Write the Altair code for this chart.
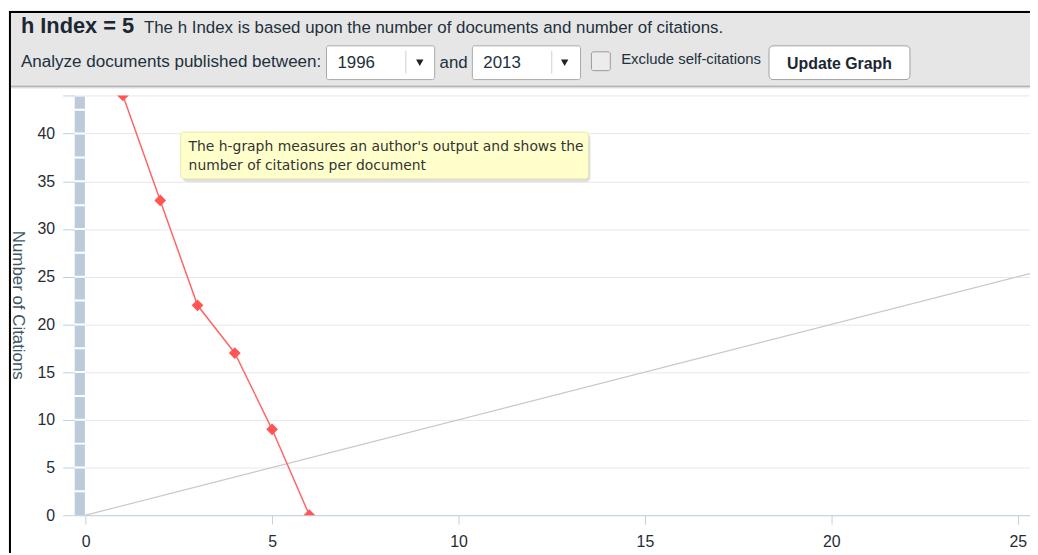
import altair as alt
import pandas as pd

# ---------------- data ----------------
docs = [1, 2, 3, 4, 5, 6]
citations = [44, 33, 22, 17, 9, 0]
diag_x = [0, 26]
diag_y = [0, 26]
bar_lo = [0, 2.5, 5, 7.5, 10, 12.5, 15, 17.5, 20, 22.5, 25, 27.5, 30, 32.5, 35, 37.5, 40, 42.5]
bar_hi = [2.5, 5, 7.5, 10, 12.5, 15, 17.5, 20, 22.5, 25, 27.5, 30, 32.5, 35, 37.5, 40, 42.5, 44]
x_ticks = [0, 5, 10, 15, 20, 25]
y_ticks = [0, 5, 10, 15, 20, 25, 30, 35, 40, 44]

h_index_text = "h Index = 5"
desc_text = "The h Index is based upon the number of documents and number of citations."
analyze_text = "Analyze documents published between:"
year_from = "1996"
year_to = "2013"
and_text = "and"
exclude_text = "Exclude self-citations"
button_text = "Update Graph"
tip_line1 = "The h-graph measures an author's output and shows the"
tip_line2 = "number of citations per document"
y_title = "Number of Citations"

# ---------------- layout ----------------
W, H = 963, 423
FONT = "Liberation Sans"
TXT = "#22303c"
AXC = "#c0d0e0"
LBL = "#252d36"

xs = alt.Scale(domain=[-0.3, 25.33], nice=False, zero=False)
ys = alt.Scale(domain=[0, 44], nice=False, zero=False)

x_axis = alt.Axis(
    values=x_ticks, grid=False, domain=True, domainColor=AXC, domainWidth=1,
    tickColor=AXC, tickSize=9, labelPadding=10, labelFont=FONT, labelFontSize=16,
    labelColor=LBL, title=None,
)
y_axis = alt.Axis(
    values=y_ticks, grid=True, gridColor="#e8e8e8", domain=False, tickColor=AXC,
    tickSize=12, labelPadding=8, labelFont=FONT, labelFontSize=16, labelColor=LBL,
    labelExpr="datum.value == 44 ? '' : datum.label",
    title=y_title, titleAngle=90, titleX=-57, titleY=211, titleFont=FONT,
    titleFontSize=17, titleFontWeight="normal", titleColor="#3f5868",
    titleAlign="center", titleBaseline="middle",
)

dummy = pd.DataFrame({"k": [0]})


def box(x1, y1, x2, y2, **kw):
    return alt.Chart(dummy).mark_rect(**kw).encode(
        x=alt.value(x1), x2=alt.value(x2), y=alt.value(y1), y2=alt.value(y2)
    )


def label(x, y, s, align="left", **kw):
    return alt.Chart(dummy).mark_text(align=align, baseline="alphabetic", **kw).encode(
        x=alt.value(x), y=alt.value(y), text=alt.value(s)
    )


def arrow(x, y):
    return alt.Chart(dummy).mark_point(
        shape="triangle-down", filled=True, size=55, color="#222222", opacity=1
    ).encode(x=alt.value(x), y=alt.value(y))


def vline(x, y1, y2, color):
    return alt.Chart(dummy).mark_rule(color=color, strokeWidth=1).encode(
        x=alt.value(x), y=alt.value(y1), y2=alt.value(y2)
    )


# ---------------- plot layers ----------------
bar_df = pd.DataFrame({"lo": bar_lo, "hi": bar_hi})
bar_df["l"] = -0.3
bar_df["r"] = -0.02
bar = alt.Chart(bar_df).mark_rect(fill="#bccbdb", clip=True).encode(
    x=alt.X("l:Q", scale=xs, axis=x_axis),
    x2="r:Q",
    y=alt.Y("lo:Q", scale=ys, axis=y_axis),
    y2="hi:Q",
)
bar_sep = alt.Chart(bar_df).mark_rule(color="white", strokeWidth=2, clip=True).encode(
    x=alt.X("l:Q", scale=xs, axis=x_axis),
    x2="r:Q",
    y=alt.Y("hi:Q", scale=ys, axis=y_axis),
)

diag_df = pd.DataFrame({"x": diag_x, "y": diag_y})
diag = alt.Chart(diag_df).mark_line(color="#c8c8c8", strokeWidth=1.2, clip=True).encode(
    x=alt.X("x:Q", scale=xs, axis=x_axis),
    y=alt.Y("y:Q", scale=ys, axis=y_axis),
)

h_df = pd.DataFrame({"doc": docs, "cit": citations})
hline = alt.Chart(h_df).mark_line(color="#ff6666", strokeWidth=1.5, clip=True).encode(
    x=alt.X("doc:Q", scale=xs, axis=x_axis),
    y=alt.Y("cit:Q", scale=ys, axis=y_axis),
)
hpts = alt.Chart(h_df).mark_point(
    shape="diamond", filled=True, size=140, color="#ff5555", opacity=1, clip=True
).encode(
    x=alt.X("doc:Q", scale=xs, axis=x_axis),
    y=alt.Y("cit:Q", scale=ys, axis=y_axis),
)

# ---------------- tooltip ----------------
tip_shadow = box(109, 39, 520, 87, fill="#000000", opacity=0.13, cornerRadius=4)
tip_box = box(107, 37, 518, 84, fill="#ffffcc", stroke="#e8e8b0", strokeWidth=1, cornerRadius=3)
tip_t1 = label(115, 56, tip_line1, font="DejaVu Sans", fontSize=14, color="#333333")
tip_t2 = label(115, 75, tip_line2, font="DejaVu Sans", fontSize=14, color="#333333")

# ---------------- header ----------------
outer_top = box(-67, -86, 963, -85, fill="#f3f3f3")
outer_left = box(-67, -86, -66, 461, fill="#f3f3f3")
border_top = box(-66, -85, 963, -83, fill="#000000")
border_left = box(-66, -85, -64, 461, fill="#000000")
header = box(-64, -83, 963, -10, fill="#e6e6e6")
header_line = box(-64, -10, 963, -8, fill="#b4b4b4")
header_line2 = box(-64, -8, 963, -7, fill="#e2e2e2")

t_h = label(-54, -63, h_index_text, font=FONT, fontSize=22, fontWeight="bold", color="#1c2733")
t_desc = label(70, -63, desc_text, font=FONT, fontSize=17, color=TXT)
t_an = label(-54, -29, analyze_text, font=FONT, fontSize=17.2, color=TXT)

dd1 = box(254, -50, 363, -16, fill="white", stroke="#a9a9a9", strokeWidth=1, cornerRadius=2)
dd1_t = label(265, -28, year_from, font=FONT, fontSize=17, color=TXT)
dd1_s = vline(334, -45, -22, "#d0d0d0")
dd1_a = arrow(348, -33)
t_and = label(368, -28, and_text, font=FONT, fontSize=17, color=TXT)
dd2 = box(401, -50, 510, -16, fill="white", stroke="#a9a9a9", strokeWidth=1, cornerRadius=2)
dd2_t = label(412, -28, year_to, font=FONT, fontSize=17, color=TXT)
dd2_s = vline(481, -45, -22, "#d0d0d0")
dd2_a = arrow(494, -33)
chk = box(521, -44, 540, -25, fill="#ececec", stroke="#9a9a9a", strokeWidth=1, cornerRadius=2)
t_ex = label(551, -31.5, exclude_text, font=FONT, fontSize=15, color=TXT)
btn = box(700, -50, 842, -16, fill="white", stroke="#a0a0a0", strokeWidth=1, cornerRadius=4)
t_btn = label(771, -26.5, button_text, align="center", font=FONT, fontSize=16, fontWeight="bold", color="#1c2733")

chart = alt.layer(
    bar, bar_sep, diag, hline, hpts,
    outer_top, outer_left, border_top, border_left, header, header_line, header_line2,
    t_h, t_desc, t_an,
    dd1, dd1_t, dd1_s, dd1_a, t_and, dd2, dd2_t, dd2_s, dd2_a, chk, t_ex, btn, t_btn,
    tip_shadow, tip_box, tip_t1, tip_t2,
).properties(
    width=W,
    height=H,
    autosize=alt.AutoSizeParams(type="none"),
    padding={"left": 67, "top": 86, "right": 0, "bottom": 38},
    background="white",
).configure_view(
    stroke=None
).configure_axis(
    labelFont=FONT, labelFontSize=16, labelColor=LBL,
    titleFont=FONT, titleFontSize=17, titleFontWeight="normal",
)

chart.save("out.html", embed_options={"renderer": "svg", "actions": False})
